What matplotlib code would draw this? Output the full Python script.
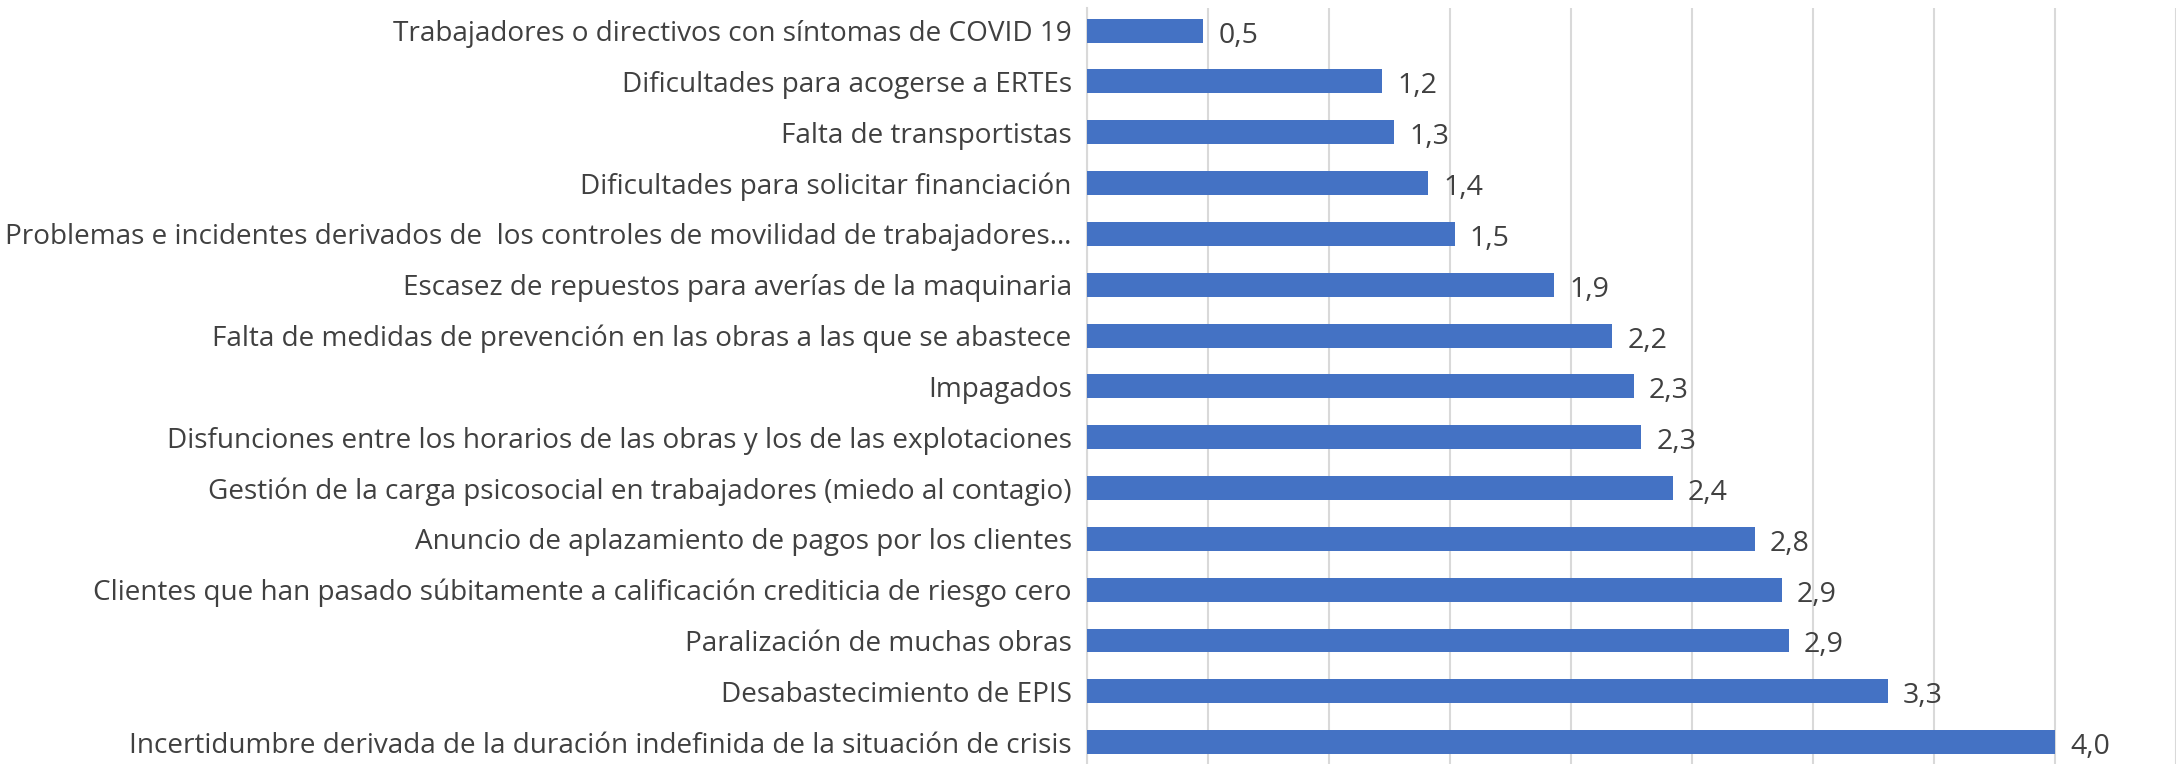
import matplotlib
matplotlib.use("Agg")
import matplotlib.pyplot as plt

categories = [
    "Trabajadores o directivos con síntomas de COVID 19",
    "Dificultades para acogerse a ERTEs",
    "Falta de transportistas",
    "Dificultades para solicitar financiación",
    "Problemas e incidentes derivados de  los controles de movilidad de trabajadores…",
    "Escasez de repuestos para averías de la maquinaria",
    "Falta de medidas de prevención en las obras a las que se abastece",
    "Impagados",
    "Disfunciones entre los horarios de las obras y los de las explotaciones",
    "Gestión de la carga psicosocial en trabajadores (miedo al contagio)",
    "Anuncio de aplazamiento de pagos por los clientes",
    "Clientes que han pasado súbitamente a calificación crediticia de riesgo cero",
    "Paralización de muchas obras",
    "Desabastecimiento de EPIS",
    "Incertidumbre derivada de la duración indefinida de la situación de crisis",
]
values = [0.48, 1.22, 1.27, 1.41, 1.52, 1.93, 2.17, 2.26, 2.29, 2.42, 2.76, 2.87, 2.90, 3.31, 4.00]
value_labels = ["0,5", "1,2", "1,3", "1,4", "1,5", "1,9", "2,2", "2,3", "2,3", "2,4",
                "2,8", "2,9", "2,9", "3,3", "4,0"]
xticks = [0, 0.5, 1.0, 1.5, 2.0, 2.5, 3.0, 3.5, 4.0, 4.5]

plt.rcParams['font.family'] = ['Open Sans', 'DejaVu Sans']
W, H = 2178, 764
fig = plt.figure(figsize=(W / 100, H / 100), dpi=100)
ax = fig.add_axes([1087 / W, 0, (2176 - 1087) / W, 1 - 8 / H])

ypos = list(range(len(categories)))
ax.barh(ypos, values, height=0.47, color="#4472C4", zorder=3)
ax.set_ylim(len(categories) - 1 + 0.43, -0.445)
ax.set_xlim(0, 4.5)
ax.set_xticks(xticks)
ax.set_xticklabels([])
ax.tick_params(axis='x', length=0)
ax.grid(axis='x', color="#D9D9D9", linewidth=1.5, zorder=0)
ax.set_yticks(ypos)
ax.set_yticklabels(categories, fontsize=20.1, color="#404040")
ax.tick_params(axis='y', length=0, pad=11)
for s in ["top", "right", "bottom"]:
    ax.spines[s].set_visible(False)
ax.spines["left"].set_color("#D9D9D9")
ax.spines["left"].set_linewidth(1.5)

for y, v, lab in zip(ypos, values, value_labels):
    ax.annotate(lab, xy=(v, y), xytext=(15, -5), textcoords="offset pixels",
                ha="left", va="center", fontsize=20.5, color="#404040")

fig.savefig("out.png", dpi=100)
